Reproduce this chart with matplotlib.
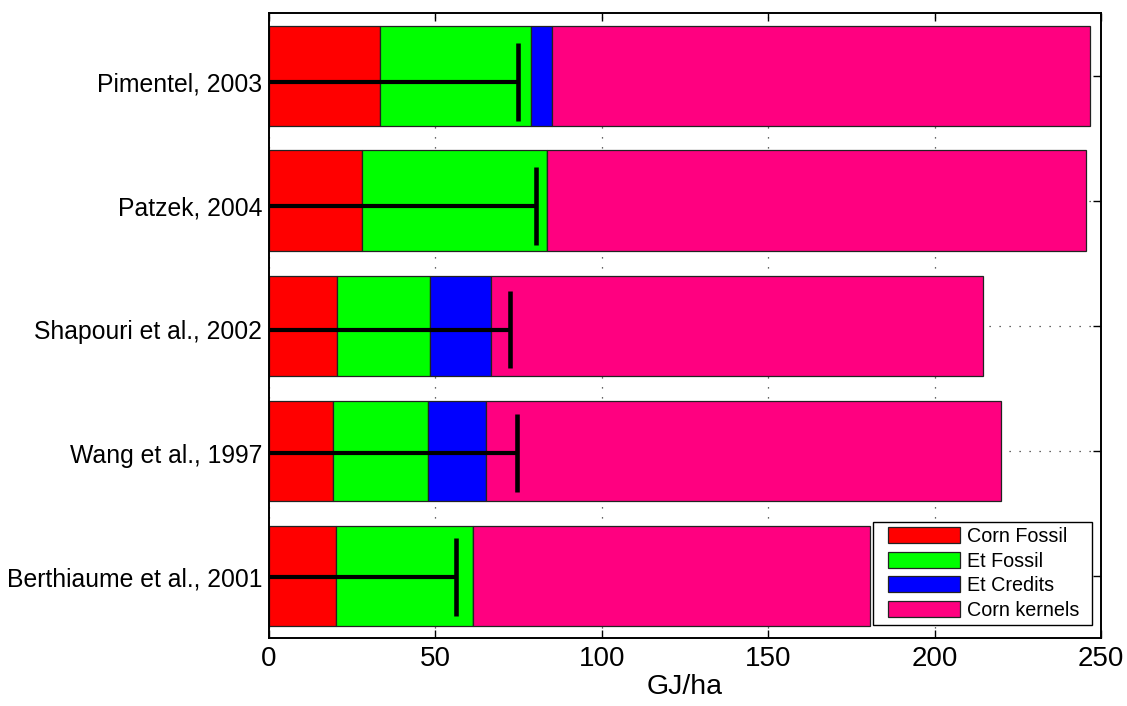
import matplotlib
matplotlib.use("Agg")
import matplotlib.pyplot as plt
from matplotlib.patches import Rectangle
import numpy as np

plt.rcParams['font.family'] = ['Liberation Sans', 'DejaVu Sans']

studies = ["Berthiaume et al., 2001", "Wang et al., 1997", "Shapouri et al., 2002",
           "Patzek, 2004", "Pimentel, 2003"]
corn_fossil = [20.0, 19.1, 20.5, 27.8, 33.4]
et_fossil = [41.4, 28.8, 28.0, 55.6, 45.4]
et_credits = [0.0, 17.3, 18.2, 0.0, 6.1]
corn_kernels = [119.2, 154.8, 147.8, 162.0, 161.8]
net_values = [56.3, 74.5, 72.4, 80.2, 74.7]

series_names = ["Corn Fossil", "Et Fossil", "Et Credits", "Corn kernels"]
series_colors = ["#FF0000", "#00FF00", "#0000FF", "#FF0080"]
x_ticks = [0, 50, 100, 150, 200, 250]
x_label = "GJ/ha"

W, H = 1127, 706
fig = plt.figure(figsize=(W / 100, H / 100), dpi=100)

L, R, T, B = 269, 1101, 13, 638
ax = fig.add_axes([L / W, (H - B) / H, (R - L) / W, (B - T) / H])
# overlay axes for study labels & error bars
T2, B2 = 20.1, 638.9
ax2 = fig.add_axes([L / W, (H - B2) / H, (R - L) / W, (B2 - T2) / H])

ypos = np.arange(1, len(studies) + 1)
left = np.zeros(len(studies))
handles = []
for vals, name, col in zip([corn_fossil, et_fossil, et_credits, corn_kernels],
                           series_names, series_colors):
    v = np.array(vals)
    h = ax.barh(ypos, v, height=0.8, left=left, color=col, edgecolor="#222222",
                linewidth=0.9, label=name, zorder=2)
    handles.append(h)
    left = left + v

ax.set_xlim(0, 250)
ax.set_ylim(0.5, 5.5)
ax.set_xticks(x_ticks)
ax.set_xticklabels([str(t) for t in x_ticks], fontsize=20)
ax.set_yticks(ypos)
ax.set_xlabel(x_label, fontsize=20.5, labelpad=1)
ax.tick_params(axis='x', direction='in', length=6, width=1, top=True, bottom=True, pad=6)
ax.tick_params(axis='y', direction='in', length=6, width=1, left=False, right=True,
               labelleft=False)
ax.grid(True, linestyle=(0, (1, 7)), color="#333333", linewidth=0.9, zorder=0)
ax.set_axisbelow(True)
for s in ax.spines.values():
    s.set_linewidth(1.4)
    s.set_zorder(5)

# legend box (MATLAB style) and entries
box = Rectangle(((873 - L) / (R - L), (B - 625) / (B - T)),
                (1092 - 873) / (R - L), (625 - 522) / (B - T),
                transform=ax.transAxes, facecolor="white", edgecolor="black",
                linewidth=1.0, zorder=9)
ax.add_patch(box)
leg = ax.legend(handles=handles, labels=series_names, loc='center left',
                bbox_to_anchor=((888 - L) / (R - L), (B - 573.3) / (B - T)),
                borderaxespad=0, borderpad=0, fontsize=14.2, frameon=False,
                handlelength=3.65, handleheight=0.85,
                labelspacing=0.28, handletextpad=0.38)
leg.set_zorder(10)

# overlay axes
ax2.patch.set_visible(False)
for s in ax2.spines.values():
    s.set_visible(False)
ax2.set_xlim(0, 250)
ax2.set_ylim(0.5, 5.5)
ax2.set_xticks([])
ax2.set_yticks(ypos)
ax2.set_yticklabels(studies, fontsize=17.8)
ax2.tick_params(axis='y', direction='in', length=6, width=1, pad=5)
ax2.hlines(ypos, 0, net_values, color="black", linewidth=3.0, zorder=4)
ax2.vlines(net_values, ypos - 0.315, ypos + 0.315, color="black", linewidth=3.3, zorder=4)

fig.savefig("out.png", dpi=100)
